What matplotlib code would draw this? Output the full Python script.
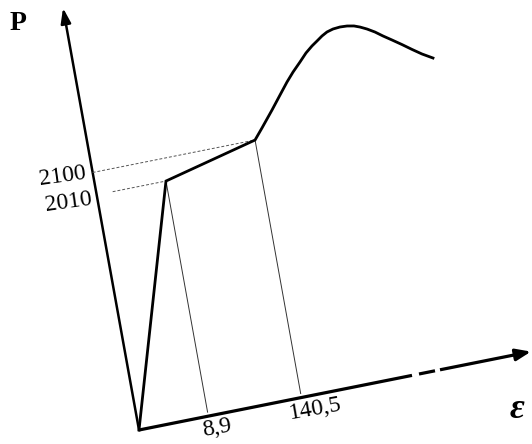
import matplotlib
matplotlib.use("Agg")
import matplotlib.pyplot as plt
from matplotlib.transforms import Affine2D

# schematic load-strain curve, drawn in an oblique (skewed) frame
# eps = distance along the strain axis, p = distance along the load axis
eps_curve = [0, 69.3, 162.4, 171.2, 184.0, 194.3, 203.3, 210.9, 219.3,
             226.7, 233.7, 239.4, 245.1, 250.6, 256.9, 264.0, 271.0, 277.7,
             283.3, 289.8, 296.9, 304.0, 312.0, 320.8, 329.7, 338.5, 348.4]
p_curve = [0, 235.1, 257.5, 267.8, 283.2, 296.1, 307.3, 315.8, 324.1,
           331.7, 337.3, 341.1, 345.0, 347.9, 349.6, 350.2, 349.8, 348.5,
           346.3, 343.0, 338.6, 333.2, 327.6, 321.3, 314.6, 308.3, 302.3]

eps_marks = [69.3, 162.4]
eps_labels = ["8,9", "140,5"]
p_marks = [235.1, 257.5]
p_labels = ["2010", "2100"]
p_guide_start = [16, 0]

eps_axis_end = 392
p_axis_end = 422
eps_axis_gap = [(273, 280), (296, 301)]

fig = plt.figure(figsize=(5.32, 4.44), dpi=100)
ax = fig.add_axes([0, 0, 1, 1])
ax.set_xlim(0, 532)
ax.set_ylim(444, 0)
ax.axis("off")

# oblique frame: strain axis tilts up to the right, load axis leans left
skew = Affine2D.from_values(1, -0.2, -0.18, -1, 139, 430)
tr = skew + ax.transData

# axes
ax.plot([0, eps_axis_gap[0][0]], [0, 0], color="black", lw=2.3, transform=tr,
        solid_capstyle="butt")
ax.plot([eps_axis_gap[0][1], eps_axis_gap[1][0]], [0, 0], color="black", lw=2.3,
        transform=tr, solid_capstyle="butt")
ax.plot([eps_axis_gap[1][1], eps_axis_end - 10], [0, 0], color="black", lw=2.3,
        transform=tr, solid_capstyle="butt")
ax.annotate("", xy=(eps_axis_end, 0), xytext=(eps_axis_end - 14, 0),
            xycoords=tr, textcoords=tr,
            arrowprops=dict(arrowstyle="-|>,head_length=0.9,head_width=0.35",
                            color="black", lw=2.3, shrinkA=0, shrinkB=0))
ax.plot([0, 0], [0, p_axis_end - 10], color="black", lw=1.8, transform=tr)
ax.annotate("", xy=(0, p_axis_end), xytext=(0, p_axis_end - 14),
            xycoords=tr, textcoords=tr,
            arrowprops=dict(arrowstyle="-|>,head_length=0.9,head_width=0.3",
                            color="black", lw=1.8, shrinkA=0, shrinkB=0))

# guide lines
for e, p, s in zip(eps_marks, p_marks, p_guide_start):
    ax.plot([s, e], [p, p], color="#555555", lw=0.7, ls=(0, (3, 2)), transform=tr)
    ax.plot([e, e], [4, p], color="#333333", lw=0.7, transform=tr)

# curve
ax.plot(eps_curve, p_curve, color="black", lw=2.0, transform=tr,
        solid_joinstyle="miter")

# labels
serif = "Liberation Serif"
ax.text(63, 176, p_labels[1], fontsize=17, family=serif, rotation=8,
        ha="center", va="center")
ax.text(69, 202, p_labels[0], fontsize=17, family=serif, rotation=8,
        ha="center", va="center")
ax.text(217, 428, eps_labels[0], fontsize=17, family=serif, rotation=10,
        ha="center", va="center")
ax.text(315, 409, eps_labels[1], fontsize=17, family=serif, rotation=10,
        ha="center", va="center")
ax.text(18, 24, "P", fontsize=20, family=serif, weight="bold",
        ha="center", va="center")
ax.text(517, 409, "ε", fontsize=26, family=serif, weight="bold", style="italic",
        ha="center", va="center")

fig.savefig("out.png", dpi=100)
